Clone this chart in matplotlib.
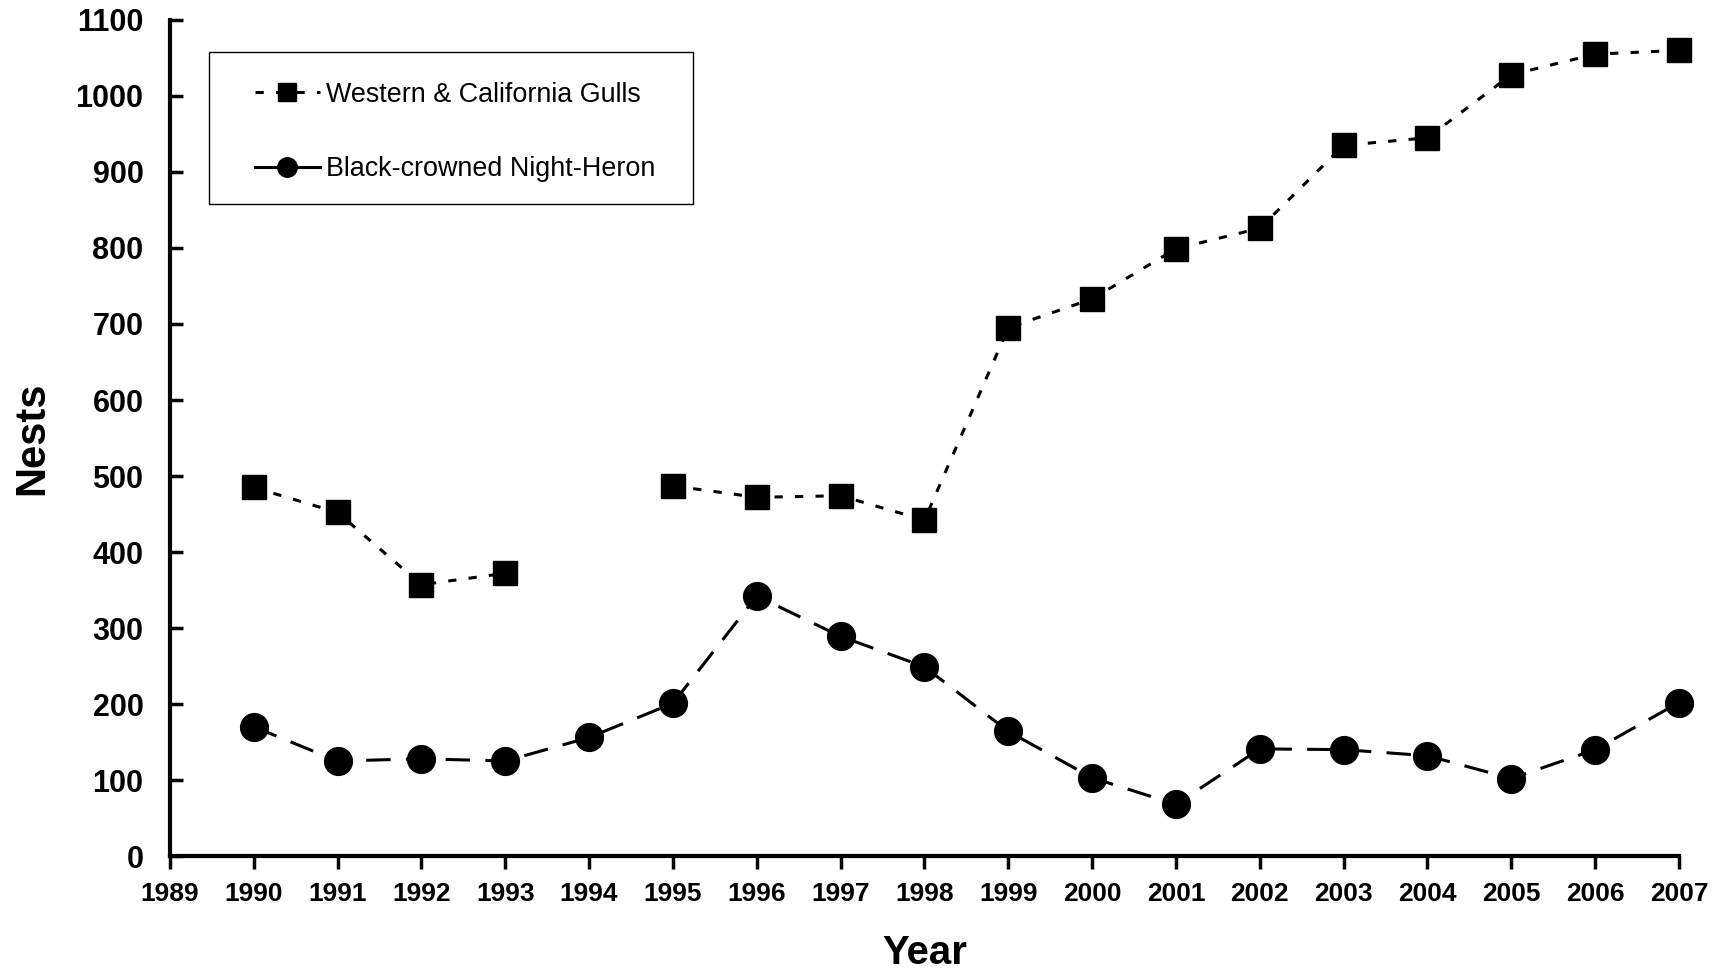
import numpy as np
import matplotlib.pyplot as plt
from matplotlib.lines import Line2D
from matplotlib.patches import Rectangle

years = np.arange(1990, 2008)
gulls = np.array([485, 452, 357, 372, np.nan, 487, 472, 474, 442,
                  695, 733, 799, 826, 935, 945, 1028, 1055, 1060], dtype='float')   #### no count in 1994
heron = np.array([170, 125, 128, 125, 156, 201, 342, 289, 249,
                  164, 103, 68, 141, 140, 132, 102, 140, 202], dtype='float')
labels = ['Western & California Gulls', 'Black-crowned Night-Heron']

plt.rcParams['font.family'] = ['Liberation Sans', 'DejaVu Sans']

fig = plt.figure(figsize=(17.27, 9.74), dpi=100)
ax = fig.add_axes([0.0984, 0.1211, 0.8738, 0.8584])

ax.plot(years, gulls, color='black', lw=2.2, linestyle=(0, (2.7, 4)),
        marker='s', ms=17, clip_on=False, zorder=3)
ax.plot(years, heron, color='black', lw=2.2, linestyle=(0, (8, 5)),
        marker='o', ms=20, clip_on=False, zorder=3)

ax.set_xlim(1989, 2007)
ax.set_ylim(0, 1100)
ax.set_xticks(np.arange(1989, 2008))
ax.set_yticks(np.arange(0, 1101, 100))

for s in ['top', 'right']:
    ax.spines[s].set_visible(False)
for s in ['left', 'bottom']:
    ax.spines[s].set_linewidth(3)

ax.tick_params(axis='y', direction='in', length=9, width=2.5, labelsize=22, pad=19)
ax.tick_params(axis='x', direction='out', length=9, width=2.5, labelsize=19, pad=10)
for lab in ax.get_yticklabels() + ax.get_xticklabels():
    lab.set_fontweight('bold')

ax.set_xlabel('Year', fontsize=29, fontweight='bold', labelpad=20)
ax.set_ylabel('Nests', fontsize=30, fontweight='bold')
ax.yaxis.set_label_coords(-0.078, 0.5)

# legend box drawn by hand (wider side padding than legend() allows)
ax.add_patch(Rectangle((0.0258, 0.780), 0.3207, 0.1817, transform=ax.transAxes,
                       facecolor='white', edgecolor='black', lw=1, zorder=4, clip_on=False))
handles = [Line2D([], [], color='black', lw=2.2, linestyle=(0, (2.7, 4)), marker='s', ms=13),
           Line2D([], [], color='black', lw=2.2, linestyle='-', marker='o', ms=14)]
leg = ax.legend(handles, labels, loc='upper left', bbox_to_anchor=(0.0563, 0.926),
                fontsize=19.4, frameon=False, handlelength=2.4, handletextpad=0.25,
                labelspacing=1.8, borderpad=0, borderaxespad=0)
leg.set_zorder(5)

plt.savefig('out.png', dpi=100)
